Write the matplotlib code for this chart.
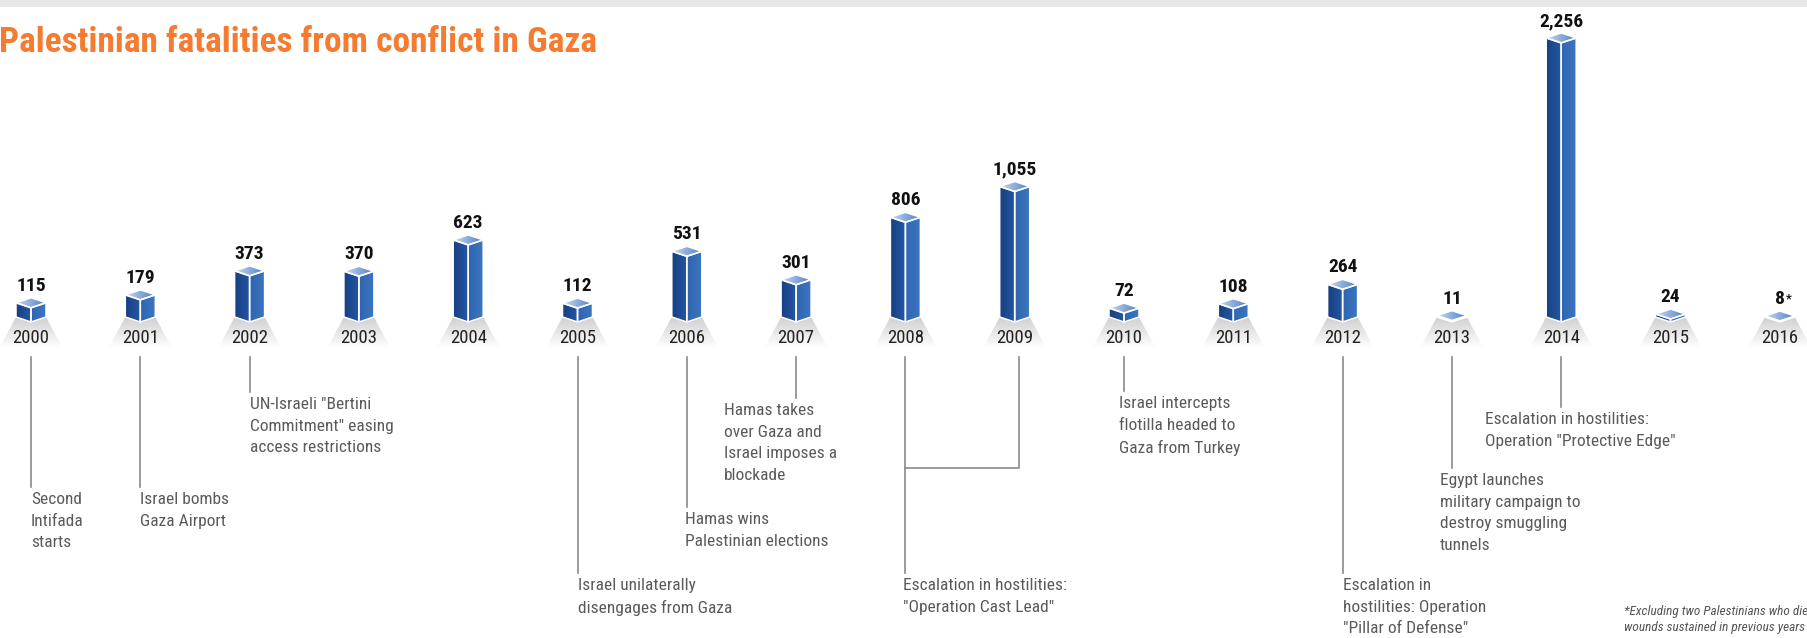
import numpy as np
import matplotlib
matplotlib.use("Agg")
import matplotlib.pyplot as plt
from matplotlib.patches import Polygon, Rectangle
from matplotlib.colors import LinearSegmentedColormap

# === DATA ===
years = list(range(2000, 2017))
fatalities = [115, 179, 373, 370, 623, 112, 531, 301, 806, 1055, 72, 108, 264, 11, 2256, 24, 8]
value_labels = ["115", "179", "373", "370", "623", "112", "531", "301", "806", "1,055",
                "72", "108", "264", "11", "2,256", "24", "8*"]

# (year, text, line end in px from top, text x offset in years)
events = [
    (2000, "Second\nIntifada\nstarts", 487, 0.0),
    (2001, "Israel bombs\nGaza Airport", 487, 0.0),
    (2002, 'UN-Israeli "Bertini\nCommitment" easing\naccess restrictions', 392, 0.0),
    (2005, "Israel unilaterally\ndisengages from Gaza", 573, 0.0),
    (2006, "Hamas wins\nPalestinian elections", 507, -0.02),
    (2007, "Hamas takes\nover Gaza and\nIsrael imposes a\nblockade", 398, -0.66),
    (2010, "Israel intercepts\nflotilla headed to\nGaza from Turkey", 391, -0.05),
    (2012, 'Escalation in\nhostilities: Operation\n"Pillar of Defense"', 573, 0.0),
    (2013, "Egypt launches\nmilitary campaign to\ndestroy smuggling\ntunnels", 468, -0.11),
    (2014, 'Escalation in hostilities:\nOperation "Protective Edge"', 407, -0.70),
]
cast_lead_text = 'Escalation in hostilities:\n"Operation Cast Lead"'

TITLE = "Palestinian fatalities from conflict in Gaza"
FOOTNOTE = "*Excluding two Palestinians who died of\nwounds sustained in previous years"

# === LAYOUT ===
W, H = 1807, 638
DPI = 100
BASE_PX = 322          # baseline of bars, px from top
UNIT_PX = 0.1237       # px per fatality
YEAR_PX = 109.3        # px per year
X0_PX = 31             # px of year 2000
HALF_W = 15 / YEAR_PX  # half width of bar in years
DEPTH = 5 / UNIT_PX    # isometric offset in value units

FONT = ["Roboto Condensed", "Liberation Sans Narrow", "DejaVu Sans"]
plt.rcParams["font.family"] = FONT
plt.rcParams["font.stretch"] = "condensed"

xlim = (2000 - X0_PX / YEAR_PX, 2000 + (W - X0_PX) / YEAR_PX)

fig = plt.figure(figsize=(W / DPI, H / DPI), dpi=DPI)
ax = fig.add_axes([0, 0, 1, 1])
lay = fig.add_axes([0, 0, 1, 1])
lay.patch.set_alpha(0)
for a in (ax, lay):
    a.axis("off")


def grad_fill(a, verts, c1, c2, vertical=False, zorder=2):
    poly = Polygon(verts, closed=True, fc="none", ec="none")
    a.add_patch(poly)
    xs = [p[0] for p in verts]
    ys = [p[1] for p in verts]
    g = np.linspace(0, 1, 64)
    g = g.reshape(-1, 1) if vertical else g.reshape(1, -1)
    cmap = LinearSegmentedColormap.from_list("g", [c1, c2])
    im = a.imshow(g, cmap=cmap, extent=[min(xs), max(xs), min(ys), max(ys)],
                  aspect="auto", origin="lower", interpolation="bilinear", zorder=zorder)
    im.set_clip_path(poly)


# === Bars ===
for x, v, lab in zip(years, fatalities, value_labels):
    hw, d = HALF_W, DEPTH
    # light shadow under bar
    sh = [(x - hw, d), (x, 0), (x + hw, d), (x + 2.1 * hw, -26 / UNIT_PX), (x - 2.1 * hw, -26 / UNIT_PX)]
    grad_fill(ax, sh, "#ffffff", "#d0d0d0", vertical=True, zorder=1)

    left = [(x - hw, d), (x, 0), (x, v), (x - hw, v + d)]
    right = [(x, 0), (x + hw, d), (x + hw, v + d), (x, v)]
    top = [(x, v), (x - hw, v + d), (x, v + 2 * d), (x + hw, v + d)]
    grad_fill(ax, left, "#183f82", "#2457a3", zorder=2)
    grad_fill(ax, right, "#2f65b0", "#3d76c0", zorder=2)
    grad_fill(ax, top, "#cbd9f0", "#4d7fc6", zorder=2)
    for poly in (left, right, top):
        ax.add_patch(Polygon(poly, closed=True, fc="none", ec="white", lw=1.1, zorder=3))

    ytxt = v + 2 * d + 3 / UNIT_PX
    if lab.endswith("*"):
        t = ax.text(x, ytxt, lab[:-1], ha="center", va="bottom", fontsize=14,
                    fontweight="bold", color="#111111", zorder=4)
        ax.annotate("*", xy=(1, 1), xycoords=t, xytext=(1, -2), textcoords="offset points",
                    ha="left", va="top", fontsize=9, fontweight="bold", color="#111111")
    else:
        ax.text(x, ytxt, lab, ha="center", va="bottom", fontsize=14,
                fontweight="bold", color="#111111", zorder=4)

ax.set_xlim(xlim)
ax.set_ylim(-(H - BASE_PX) / UNIT_PX, BASE_PX / UNIT_PX)

# === Layout layer in pixel rows ===
lay.set_xlim(xlim)
lay.set_ylim(H, 0)

lay.add_patch(Rectangle((xlim[0], 0), xlim[1] - xlim[0], 7, fc="#e6e7e8", ec="none"))
lay.text(xlim[0] - 0.005, 43, TITLE, ha="left", va="center", fontsize=25.5,
         fontweight="bold", color="#f47b2f")

for x in years:
    lay.text(x, 338, str(x), ha="center", va="center", fontsize=13.5, color="#222222", zorder=5)

LINE_TOP = 357
LINE_KW = dict(color="#8a8a8a", lw=1.2)
TXT_KW = dict(ha="left", va="top", fontsize=12.5, fontweight="normal", color="#5a5a5a",
              linespacing=1.55)

for yr, txt, end, dx in events:
    lay.plot([yr, yr], [LINE_TOP, end], **LINE_KW)
    lay.text(yr + dx, end + 5, txt, **TXT_KW)

# 2008 / 2009 bracket
lay.plot([2009.04, 2009.04, 2008, 2008], [LINE_TOP, 468, 468, LINE_TOP], **LINE_KW)
lay.plot([2008, 2008], [468, 573], **LINE_KW)
lay.text(2008 - 0.02, 578, cast_lead_text, **TXT_KW)

lay.text(2000 + (1624 - X0_PX) / YEAR_PX, 605, FOOTNOTE, ha="left", va="top",
         fontsize=9.5, style="italic", color="#555555", linespacing=1.3)

fig.savefig("out.png", dpi=DPI, facecolor="white")
